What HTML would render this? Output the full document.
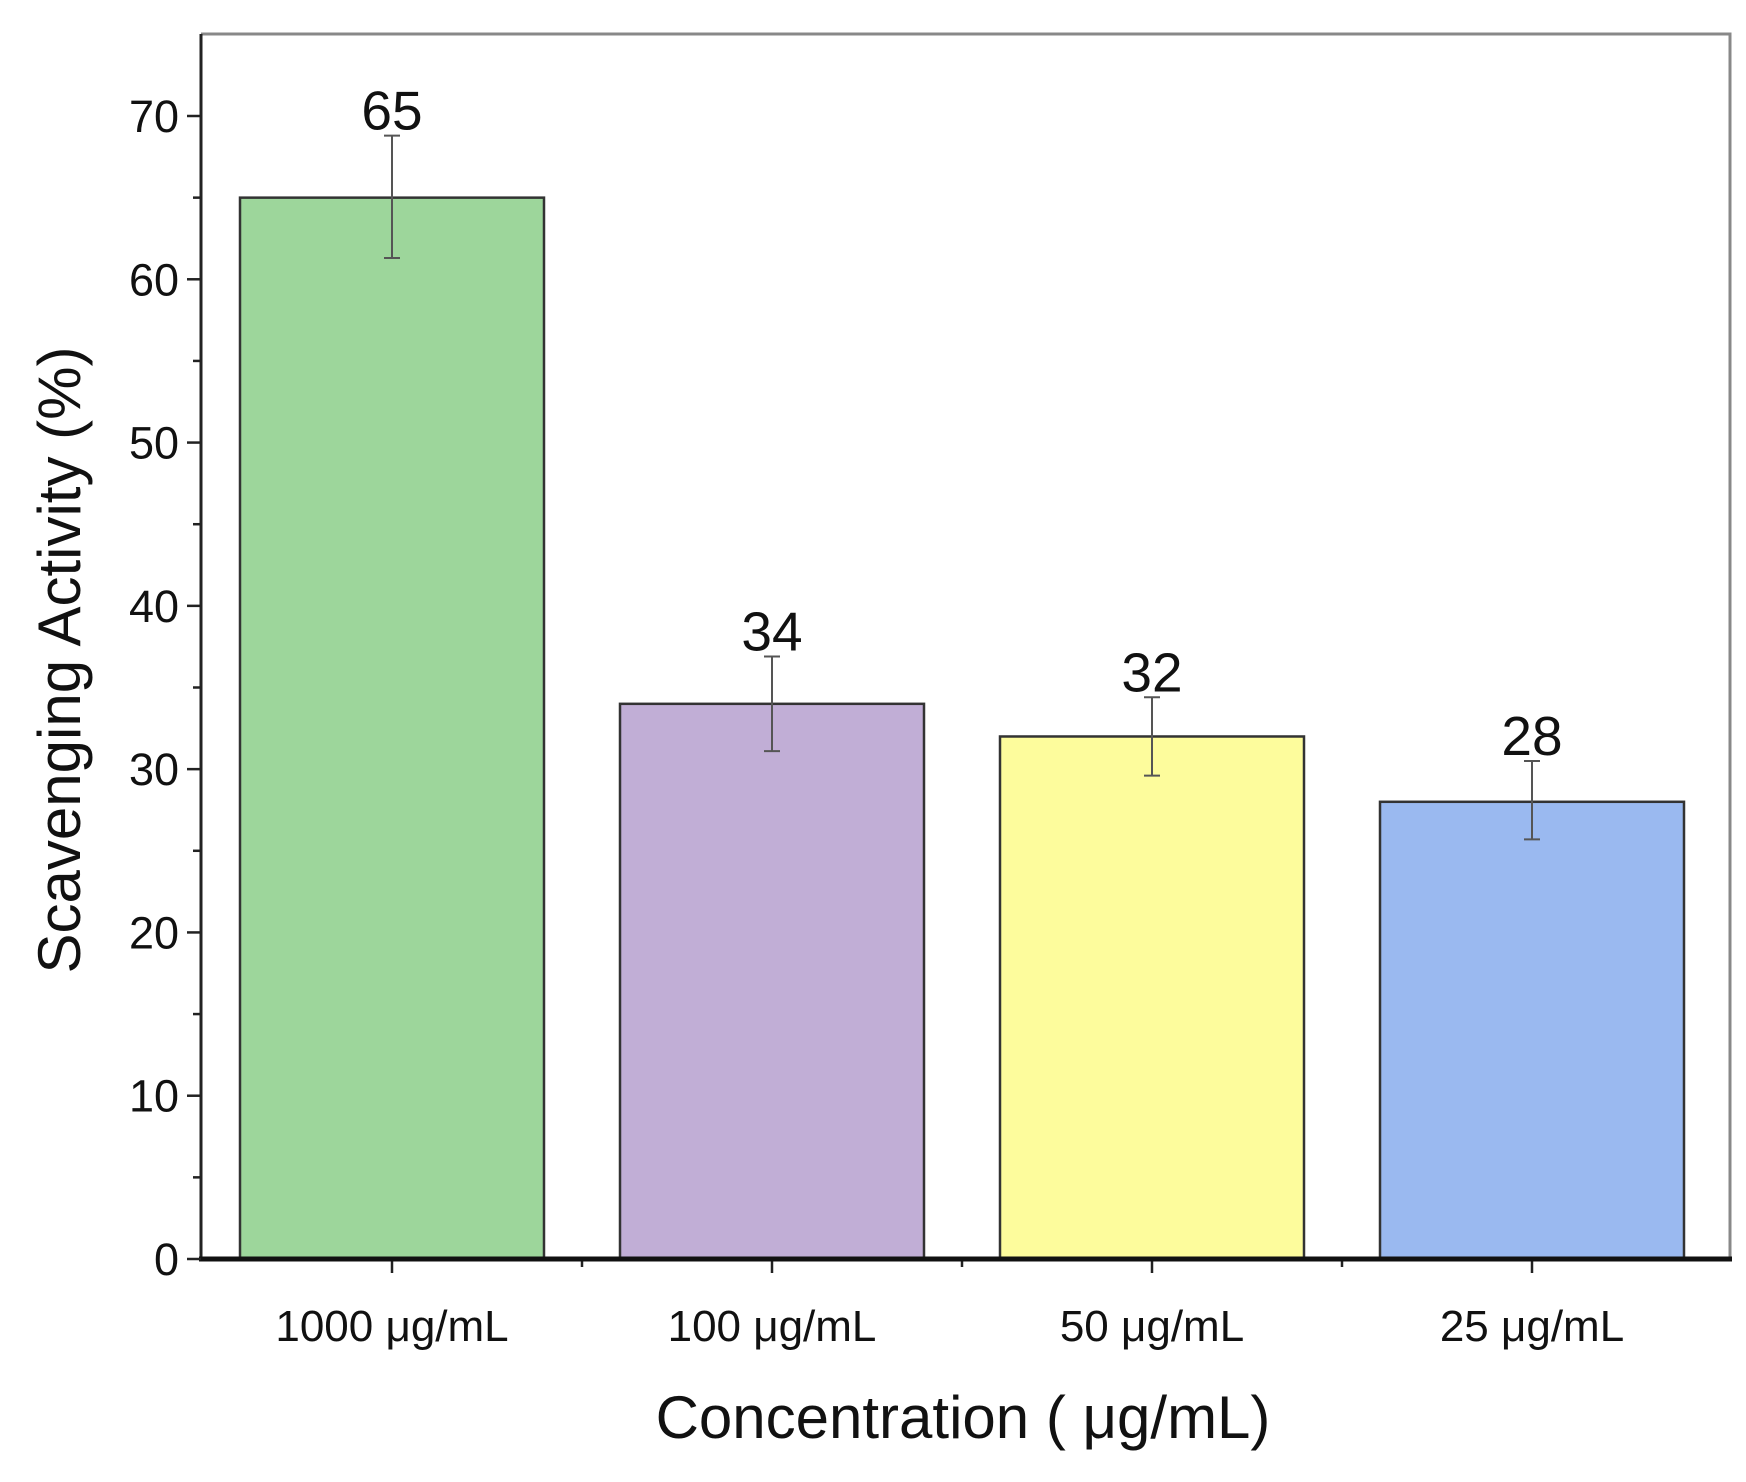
<!DOCTYPE html>
<html><head><meta charset="utf-8"><style>
body{margin:0;background:#fff}
svg text{font-family:"Liberation Sans",Arial,sans-serif;fill:#111}
</style></head><body>
<svg id="c" width="1746" height="1477" viewBox="0 0 1746 1477"></svg>
<script>
const categories=["1000 μg/mL","100 μg/mL","50 μg/mL","25 μg/mL"];
const values=[65,34,32,28];
const errLow=[61.3,31.1,29.6,25.7];
const errHigh=[68.8,36.9,34.4,30.5];
const colors=["#9dd69b","#c1aed6","#fdfc9c","#9ab9f0"];
const yTicks=[0,10,20,30,40,50,60,70];
const yMinor=[5,15,25,35,45,55,65];
const NS="http://www.w3.org/2000/svg";
const svg=document.getElementById("c");
const L=201,R=1730,T=34,B=1259;
const y=v=>B-v*(B-116)/70;
const x0=392,step=380,bw=304;
const x=i=>x0+i*step;
function el(t,a,p){const e=document.createElementNS(NS,t);for(const k in a)e.setAttribute(k,a[k]);(p||svg).appendChild(e);return e;}
const frame=el("path",{d:`M${L} ${T}H${R}V${B}`,fill:"none",stroke:"#888","stroke-width":3});


values.forEach((v,i)=>{
 const r=el("rect",{x:x(i)-bw/2,y:y(v),width:bw,height:B-y(v),fill:colors[i],stroke:"#333","stroke-width":2.5});
 
 
 const g=el("path",{d:`M${x(i)} ${y(errLow[i])}V${y(errHigh[i])}M${x(i)-8} ${y(errLow[i])}h16M${x(i)-8} ${y(errHigh[i])}h16`,stroke:"#555","stroke-width":2,fill:"none"});
 
 
 const t=el("text",{x:x(i),y:y(errHigh[i])-6,"text-anchor":"middle","font-size":55});
 t.textContent=v;
 
 
 const tl=el("text",{x:x(i),y:1341,"text-anchor":"middle","font-size":44});
 tl.textContent=categories[i];
 
 
 el("line",{x1:x(i),x2:x(i),y1:B,y2:B+14,stroke:"#222","stroke-width":2.5});
 if(i>0)el("line",{x1:x(i)-step/2,x2:x(i)-step/2,y1:B,y2:B+8,stroke:"#222","stroke-width":2.5});
});
const ya=el("line",{x1:L,x2:L,y1:T,y2:B,stroke:"#222","stroke-width":3});


const xa=el("line",{x1:L-2,x2:R+2,y1:B,y2:B,stroke:"#111","stroke-width":5});


yTicks.forEach(v=>{
 el("line",{x1:L-14,x2:L,y1:y(v),y2:y(v),stroke:"#222","stroke-width":2.5});
 const t=el("text",{x:L-22,y:y(v)+16,"text-anchor":"end","font-size":45});
 t.textContent=v;
 
 
});
yMinor.forEach(v=>el("line",{x1:L-8,x2:L,y1:y(v),y2:y(v),stroke:"#222","stroke-width":2.5}));
const yt=el("text",{x:0,y:0,"text-anchor":"middle","font-size":60,transform:"translate(80,660) rotate(-90)"});
yt.textContent="Scavenging  Activity (%)";


const xt=el("text",{x:963,y:1438,"text-anchor":"middle","font-size":60});
xt.textContent="Concentration ( μg/mL)";


</script>
</body></html>
